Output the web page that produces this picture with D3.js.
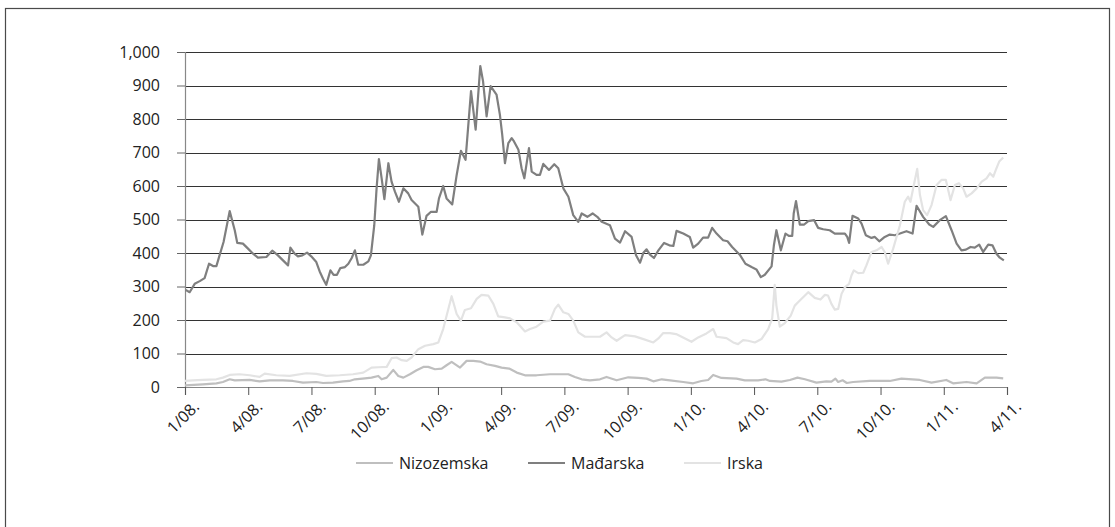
<!DOCTYPE html>
<html>
<head>
<meta charset="utf-8">
<script src="https://cdn.jsdelivr.net/npm/d3@7"></script>
<style>
  body { margin: 0; background: #fff; }
  svg { display: block; font-family: "Open Sans", sans-serif; }
</style>
</head>
<body>
<svg id="chart" width="1115" height="527"></svg>
<script>
// x values are months since 1/08. (0 = start of Jan 2008)
const seriesNames = ['Nizozemska', 'Mađarska', 'Irska'];
const seriesColors = ['#bfbfbf', '#7f7f7f', '#e3e3e3'];

const xTickMonths = [0, 3, 6, 9, 12, 15, 18, 21, 24, 27, 30, 33, 36, 39];
const xTickLabels = ['1/08.', '4/08.', '7/08.', '10/08.', '1/09.', '4/09.', '7/09.',
  '10/09.', '1/10.', '4/10.', '7/10.', '10/10.', '1/11.', '4/11.'];
const yTicks = [0, 100, 200, 300, 400, 500, 600, 700, 800, 900, 1000];

const nlMonths = [0, 0.85, 1.49, 1.8, 2.12, 2.36, 3.07, 3.54, 4.02, 4.65, 5.12, 5.6, 6.23, 6.55, 7.02, 7.5,
  7.8, 8.06, 8.54, 8.85, 9.17, 9.33, 9.57, 9.88, 10.12, 10.36, 10.67, 10.99, 11.31, 11.54, 11.86, 12.18,
  12.41, 12.65, 13.05, 13.36, 13.68, 14.0, 14.31, 14.71, 15.02, 15.38, 15.74, 16.13, 16.68, 17.32, 18.19,
  18.5, 18.82, 19.21, 19.69, 20.0, 20.48, 21.03, 21.51, 21.9, 22.22, 22.62, 23.01, 23.64, 24.11, 24.5,
  24.82, 25.06, 25.45, 26.17, 26.56, 27.19, 27.54, 27.75, 28.3, 28.7, 29.06, 29.41, 29.96, 30.43, 30.67,
  30.86, 30.99, 31.2, 31.4, 31.7, 32.49, 33.44, 33.99, 34.86, 35.42, 36.12, 36.44, 37.08, 37.56, 37.95,
  38.5, 38.82];
const nlValues = [5, 8, 11, 15, 23, 20, 21, 17, 20, 20, 18, 13, 15, 12, 13, 17,
  18, 23, 26, 28, 33, 23, 28, 51, 33, 28, 38, 50, 60, 60, 53, 55,
  65, 75, 58, 78, 78, 76, 68, 63, 58, 55, 43, 35, 35, 38, 38,
  30, 23, 20, 23, 30, 20, 29, 27, 25, 17, 23, 20, 15, 11, 18,
  21, 36, 27, 25, 20, 20, 23, 18, 16, 21, 28, 23, 13, 17, 16,
  25, 15, 20, 12, 15, 18, 18, 25, 21, 13, 21, 11, 15, 11, 28,
  28, 26];

const huMonths = [0.03, 0.22, 0.46, 0.7, 0.93, 1.14, 1.33, 1.49, 1.64, 1.83, 2.12, 2.36, 2.48, 2.75, 2.99,
  3.23, 3.46, 3.86, 4.14, 4.41, 4.65, 4.89, 5.0, 5.2, 5.36, 5.57, 5.79, 5.99, 6.23, 6.39, 6.55, 6.7, 6.9,
  7.05, 7.21, 7.37, 7.59, 7.75, 7.91, 8.06, 8.22, 8.46, 8.7, 8.82, 8.98, 9.09, 9.2, 9.33, 9.46, 9.65, 9.8,
  9.96, 10.15, 10.36, 10.59, 10.75, 11.07, 11.26, 11.46, 11.67, 11.94, 12.05, 12.25, 12.41, 12.68, 12.89,
  13.09, 13.31, 13.57, 13.79, 14.01, 14.14, 14.31, 14.5, 14.78, 14.94, 15.05, 15.18, 15.34, 15.5, 15.61,
  15.82, 15.97, 16.1, 16.32, 16.45, 16.68, 16.84, 17.0, 17.27, 17.52, 17.71, 17.95, 18.19, 18.42, 18.66,
  18.82, 19.09, 19.34, 19.56, 19.77, 20.16, 20.4, 20.64, 20.88, 21.19, 21.4, 21.59, 21.75, 21.9, 22.06,
  22.25, 22.46, 22.73, 22.98, 23.17, 23.32, 23.64, 23.95, 24.11, 24.35, 24.58, 24.82, 25.01, 25.22, 25.53,
  25.74, 25.96, 26.32, 26.59, 26.88, 27.11, 27.32, 27.51, 27.83, 27.94, 28.06, 28.27, 28.49, 28.65, 28.81,
  28.88, 28.99, 29.17, 29.38, 29.57, 29.85, 30.04, 30.28, 30.59, 30.83, 31.15, 31.31, 31.42, 31.51, 31.67,
  31.94, 32.1, 32.3, 32.57, 32.73, 32.94, 33.2, 33.44, 33.68, 33.92, 34.23, 34.52, 34.71, 35.02, 35.31,
  35.5, 35.81, 36.1, 36.37, 36.61, 36.84, 37.05, 37.27, 37.47, 37.68, 37.87, 38.11, 38.31, 38.5, 38.66,
  38.85];
const huValues = [290, 283, 308, 316, 325, 368, 361, 361, 393, 433, 525, 468, 430, 428, 413,
  398, 386, 388, 407, 393, 378, 363, 416, 398, 390, 393, 401, 390, 373, 345, 323, 305, 348,
  335, 335, 355, 358, 368, 385, 408, 365, 365, 375, 393, 483, 593, 680, 623, 561, 668, 613,
  583, 553, 593, 578, 558, 538, 455, 511, 523, 523, 563, 600, 563, 545, 633,
  705, 678, 883, 768, 958, 913, 808, 898, 873, 813, 753, 668, 728, 743, 733,
  708, 653, 623, 713, 643, 633, 633, 666, 648, 665, 653, 593, 568, 513, 493,
  518, 508, 518, 508, 493, 483, 443, 431, 465, 448, 393, 371, 401, 411, 395,
  385, 408, 430, 423, 421, 466, 458, 448, 416, 428, 446, 446, 475, 458, 438,
  435, 418, 395, 368, 358, 351, 328, 335, 360, 423, 468, 408, 458, 451, 451,
  518, 555, 485, 485, 495, 498, 475, 471, 468, 458, 458, 458, 448, 430, 511,
  503, 488, 453, 445, 448, 435, 448, 455, 453, 458, 465, 458, 541, 508, 485,
  478, 498, 510, 468, 428, 408, 410, 418, 416, 425, 403, 425, 423, 398, 386,
  378];

const ieMonths = [0, 0.38, 0.85, 1.49, 1.8, 2.12, 2.59, 3.07, 3.54, 3.78, 4.33, 4.97, 5.76, 6.23, 6.7,
  7.34, 7.97, 8.46, 8.85, 9.17, 9.57, 9.8, 10.04, 10.28, 10.52, 10.75, 11.07, 11.39, 11.78, 12.02,
  12.25, 12.65, 12.89, 13.09, 13.28, 13.57, 13.84, 14.07, 14.39, 14.63, 14.86, 15.18, 15.42, 15.74,
  16.13, 16.37, 16.68, 17.0, 17.32, 17.55, 17.71, 17.95, 18.19, 18.42, 18.66, 18.98, 19.29, 19.69,
  20.0, 20.24, 20.48, 20.88, 21.35, 21.75, 22.22, 22.46, 22.69, 23.01, 23.3, 23.56, 24.03, 24.35,
  24.74, 25.06, 25.22, 25.69, 26.01, 26.24, 26.48, 26.72, 27.04, 27.35, 27.67, 27.86, 27.98, 28.06,
  28.22, 28.46, 28.74, 28.93, 29.17, 29.57, 29.88, 30.15, 30.36, 30.51, 30.67, 30.83, 30.99, 31.15,
  31.31, 31.51, 31.62, 31.73, 31.94, 32.18, 32.33, 32.57, 32.81, 33.05, 33.2, 33.36, 33.6, 33.92,
  34.15, 34.31, 34.42, 34.58, 34.74, 34.87, 35.02, 35.21, 35.42, 35.66, 35.89, 36.1, 36.32, 36.53,
  36.72, 36.92, 37.08, 37.32, 37.56, 37.8, 38.03, 38.19, 38.35, 38.47, 38.63, 38.82];
const ieValues = [18, 20, 21, 23, 28, 36, 38, 35, 30, 40, 35, 33, 41, 39, 33,
  35, 38, 43, 58, 59, 60, 86, 88, 80, 78, 88, 113, 123, 128, 133,
  173, 271, 218, 198, 230, 235, 263, 275, 273, 248, 211, 208, 205, 193,
  166, 173, 180, 195, 198, 233, 246, 223, 218, 198, 163, 150, 150, 150,
  163, 148, 138, 155, 151, 143, 133, 145, 161, 161, 158, 150, 135, 148,
  160, 173, 150, 146, 133, 128, 140, 138, 133, 143, 173, 205, 305, 243,
  180, 191, 213, 243, 258, 283, 266, 261, 275, 273, 248, 231, 233, 278,
  298, 308, 333, 348, 340, 341, 363, 403, 408, 418, 403, 368, 413, 483,
  553, 568, 553, 603, 651, 573, 528, 513, 543, 603, 618, 618, 558, 603,
  608, 593, 568, 578, 593, 613, 623, 638, 628, 648, 673, 685];

const seriesMonths = [nlMonths, huMonths, ieMonths];
const seriesValues = [nlValues, huValues, ieValues];

const svg = d3.select('#chart');

// outer frame
svg.append('rect')
  .attr('x', 5.5).attr('y', 8.5)
  .attr('width', 1104).attr('height', 540)
  .attr('fill', 'none')
  .attr('stroke', '#4a4a4a')
  .attr('stroke-width', 1.2);

const x = d3.scaleLinear().domain([0, 39]).range([185, 1007]);
const y = d3.scaleLinear().domain([0, 1000]).range([387, 52]);

// gridlines
svg.append('g')
  .selectAll('line')
  .data(yTicks.filter(d => d > 0))
  .join('line')
  .attr('x1', x(0)).attr('x2', x(39))
  .attr('y1', d => Math.round(y(d)) + 0.5)
  .attr('y2', d => Math.round(y(d)) + 0.5)
  .attr('stroke', '#333')
  .attr('stroke-width', 1);

// y axis
const yAxis = svg.append('g')
  .attr('transform', `translate(${x(0)},0)`)
  .call(d3.axisLeft(y).tickValues(yTicks).tickFormat(d3.format(',')).tickSizeOuter(0).tickSize(8).tickPadding(17));
yAxis.select('.domain').attr('stroke', '#888').attr('stroke-width', 1.2);
yAxis.selectAll('.tick line').attr('stroke', '#666');
yAxis.selectAll('.tick text')
  .attr('font-size', 16)
  .attr('font-family', '"Open Sans", sans-serif')
  .attr('fill', '#222');

// x axis
const xAxis = svg.append('g')
  .attr('transform', `translate(0,${y(0)})`)
  .call(d3.axisBottom(x).tickValues(xTickMonths)
    .tickFormat((d, i) => xTickLabels[i]).tickSizeOuter(0).tickSize(8));
xAxis.select('.domain').attr('stroke', '#888').attr('stroke-width', 1.2);
xAxis.selectAll('.tick line').attr('stroke', '#555');
xAxis.selectAll('.tick text')
  .attr('font-size', 16)
  .attr('font-family', '"Open Sans", sans-serif')
  .attr('fill', '#222')
  .attr('text-anchor', 'end')
  .attr('dy', '0.35em')
  .attr('transform', 'translate(3,9) rotate(-45)');

// lines
const line = d3.line()
  .x(d => x(d[0]))
  .y(d => y(d[1]));

seriesNames.forEach((name, i) => {
  const pts = seriesMonths[i].map((m, j) => [m, seriesValues[i][j]]);
  svg.append('path')
    .datum(pts)
    .attr('fill', 'none')
    .attr('stroke', seriesColors[i])
    .attr('stroke-width', 2.2)
    .attr('stroke-linejoin', 'round')
    .attr('d', line);
});

// legend
const legendX = [356, 528, 684];
const legend = svg.append('g');
seriesNames.forEach((name, i) => {
  legend.append('line')
    .attr('x1', legendX[i]).attr('x2', legendX[i] + 37)
    .attr('y1', 463).attr('y2', 463)
    .attr('stroke', seriesColors[i])
    .attr('stroke-width', 2.2);
  legend.append('text')
    .attr('x', legendX[i] + 43)
    .attr('y', 463)
    .attr('dy', '0.35em')
    .attr('font-size', 16)
    .attr('fill', '#222')
    .text(name);
});
</script>
</body>
</html>
